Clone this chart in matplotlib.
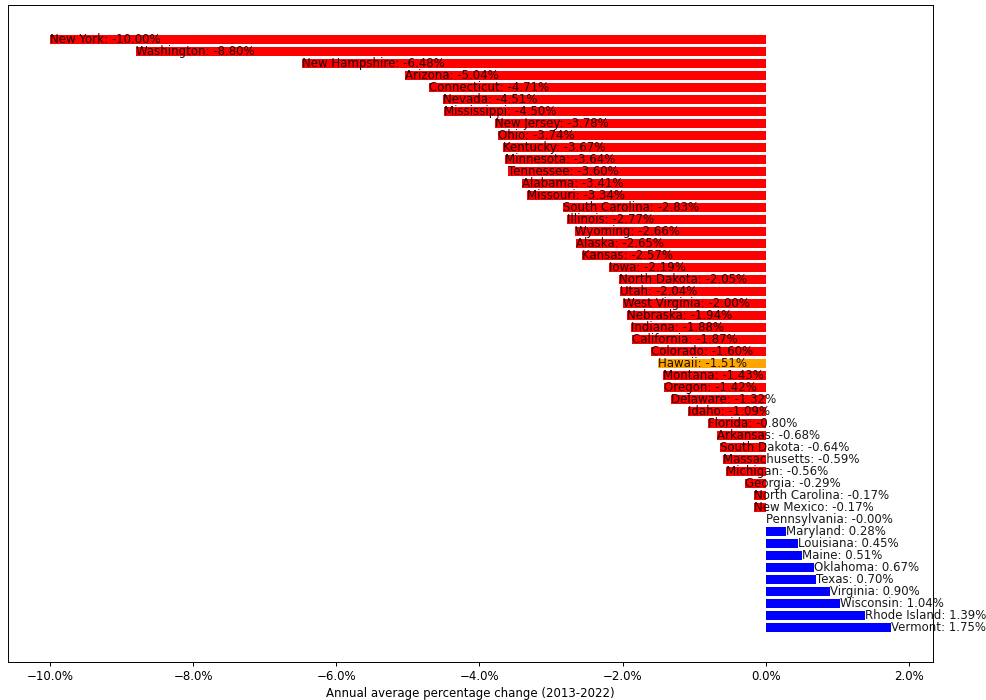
import matplotlib
matplotlib.use("Agg")
import matplotlib.pyplot as plt
from matplotlib.ticker import FuncFormatter

states = [
    "New York", "Washington", "New Hampshire", "Arizona", "Connecticut",
    "Nevada", "Mississippi", "New Jersey", "Ohio", "Kentucky",
    "Minnesota", "Tennessee", "Alabama", "Missouri", "South Carolina",
    "Illinois", "Wyoming", "Alaska", "Kansas", "Iowa",
    "North Dakota", "Utah", "West Virginia", "Nebraska", "Indiana",
    "California", "Colorado", "Hawaii", "Montana", "Oregon",
    "Delaware", "Idaho", "Florida", "Arkansas", "South Dakota",
    "Massachusetts", "Michigan", "Georgia", "North Carolina", "New Mexico",
    "Pennsylvania", "Maryland", "Louisiana", "Maine", "Oklahoma",
    "Texas", "Virginia", "Wisconsin", "Rhode Island", "Vermont",
]
changes = [
    -10.00, -8.80, -6.48, -5.04, -4.71,
    -4.51, -4.50, -3.78, -3.74, -3.67,
    -3.64, -3.60, -3.41, -3.34, -2.83,
    -2.77, -2.66, -2.65, -2.57, -2.19,
    -2.05, -2.04, -2.00, -1.94, -1.88,
    -1.87, -1.60, -1.51, -1.43, -1.42,
    -1.32, -1.09, -0.80, -0.68, -0.64,
    -0.59, -0.56, -0.29, -0.17, -0.17,
    -0.00, 0.28, 0.45, 0.51, 0.67,
    0.70, 0.90, 1.04, 1.39, 1.75,
]
highlight = "Hawaii"

colors = []
for s, v in zip(states, changes):
    if s == highlight:
        colors.append("orange")
    elif v < 0:
        colors.append("red")
    else:
        colors.append("blue")

fs = 8.5
plt.rcParams.update({
    "axes.linewidth": 0.7,
    "xtick.major.width": 0.7,
    "xtick.major.size": 3.0,
    "xtick.major.pad": 3.0,
    "xtick.labelsize": fs,
    "axes.labelsize": fs,
    "axes.labelpad": 2.5,
})

fig = plt.figure(figsize=(9.87, 7.0), dpi=100)
ax = fig.add_axes([0.0081, 0.0543, 0.9372, 0.9386])

ypos = list(range(len(states)))
ax.barh(ypos, changes, color=colors, height=0.8)
for y, s, v in zip(ypos, states, changes):
    ax.text(v, y, f"{s}: {v:.2f}%", ha="left", va="center",
            fontsize=fs, color="black", alpha=0.9)

ax.invert_yaxis()
ax.set_yticks([])
ax.xaxis.set_major_formatter(FuncFormatter(lambda x, _: f"{x:.1f}%".replace("-", "\u2212")))
ax.set_xlabel("Annual average percentage change (2013-2022)")

fig.savefig("out.png", dpi=100)
